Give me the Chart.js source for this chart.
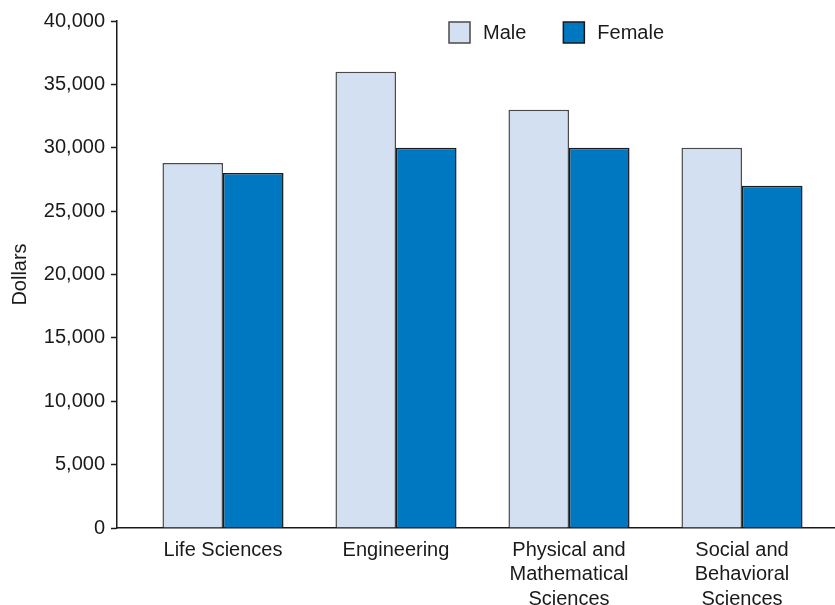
<!DOCTYPE html>
<html>
<head>
<meta charset="utf-8">
<script src="https://cdn.jsdelivr.net/npm/chart.js@4.4.1/dist/chart.umd.min.js"></script>
<style>
  html, body { margin: 0; padding: 0; background: #fff; }
  #wrap { width: 835px; height: 605px; }
</style>
</head>
<body>
<div id="wrap"><canvas id="myChart" width="835" height="605"></canvas></div>
<script>
var categories = ['Life Sciences', 'Engineering', ['Physical and', 'Mathematical', 'Sciences'], ['Social and', 'Behavioral', 'Sciences']];
var male = [28800, 36000, 33000, 30000];
var female = [28000, 30000, 30000, 27000];
var yTicks = [0, 5000, 10000, 15000, 20000, 25000, 30000, 35000, 40000];

var FONT = "'Liberation Sans', Arial, sans-serif";
var INK = '#1a1a1a';

function points(vals) {
    return vals.map(function (v, i) { return { x: i, y: v }; });
}

// simple in-plot legend
var legendInside = {
    id: 'legendInside',
    afterDraw: function (chart) {
        var c = chart.ctx;
        var x = chart.chartArea.left + 332;
        var y = 22;
        c.save();
        c.font = '20px ' + FONT;
        c.textBaseline = 'middle';
        chart.data.datasets.forEach(function (ds) {
            c.fillStyle = ds.backgroundColor;
            c.fillRect(x, y, 21, 21);
            c.strokeStyle = ds.borderColor;
            c.lineWidth = 1.5;
            c.strokeRect(x, y, 21, 21);
            c.fillStyle = INK;
            c.fillText(ds.label, x + 34, y + 11);
            x += 34 + c.measureText(ds.label).width + 37;
        });
        c.restore();
    }
};

var ctx = document.getElementById('myChart').getContext('2d');
var myChart = new Chart(ctx, {
    type: 'bar',
    data: {
        datasets: [{
            label: 'Male',
            data: points(male),
            backgroundColor: '#d2e0f2',
            borderColor: '#4a4a4a',
            borderWidth: 1.5
        }, {
            label: 'Female',
            data: points(female),
            backgroundColor: '#0078c1',
            borderColor: '#1a1a1a',
            borderWidth: 1.5
        }]
    },
    options: {
        responsive: false,
        maintainAspectRatio: false,
        animation: false,
        layout: { padding: { top: 21, left: 0, right: 0, bottom: 0 } },
        categoryPercentage: 0.7,
        barPercentage: 1.0,
        plugins: {
            legend: { display: false },
            tooltip: { enabled: false }
        },
        scales: {
            x: {
                type: 'linear',
                offset: false,
                min: -0.6127,
                max: 3.5376,
                grid: { display: false, offset: false },
                border: { display: true, color: INK, width: 1.5 },
                afterBuildTicks: function (scale) {
                    scale.ticks = categories.map(function (c, i) { return { value: i }; });
                },
                afterFit: function (scale) { scale.height = 77; },
                ticks: {
                    autoSkip: false,
                    maxRotation: 0,
                    padding: 2,
                    color: INK,
                    font: { family: FONT, size: 20, lineHeight: 1.22 },
                    callback: function (v) { return categories[v]; }
                }
            },
            y: {
                min: 0,
                max: 40000,
                afterBuildTicks: function (scale) {
                    scale.ticks = yTicks.map(function (v) { return { value: v }; });
                },
                afterFit: function (scale) { scale.width = 117; },
                grid: { display: true, drawOnChartArea: false, tickLength: 6, tickColor: INK, tickWidth: 1.5 },
                border: { display: true, color: INK, width: 1.5 },
                title: {
                    display: true,
                    text: 'Dollars',
                    color: INK,
                    padding: { top: 8, bottom: 0 },
                    font: { family: FONT, size: 20 }
                },
                ticks: {
                    padding: 6,
                    color: INK,
                    font: { family: FONT, size: 20 },
                    callback: function (v) { return v.toLocaleString('en-US'); }
                }
            }
        }
    },
    plugins: [legendInside]
});
</script>
</body>
</html>
